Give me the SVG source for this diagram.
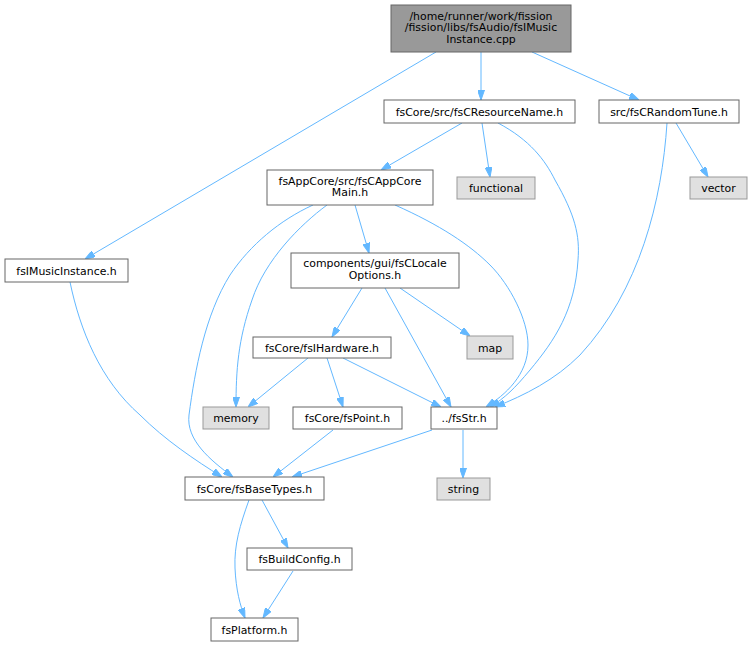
<svg xmlns="http://www.w3.org/2000/svg" width="752" height="647" viewBox="0 0 752 647">
<style>
text{font-family:"DejaVu Sans","Liberation Sans",sans-serif;font-size:10.9px;fill:#000;text-anchor:middle}
.n{fill:#fff;stroke:#666;stroke-width:1}
.x{fill:#e0e0e0;stroke:#999;stroke-width:1}
.r{fill:#999;stroke:#666;stroke-width:1}
.e{fill:none;stroke:#63b8ff;stroke-width:1;marker-end:url(#ah)}
</style>
<defs>
<marker id="ah" viewBox="0 0 10 7" refX="10" refY="3.5" markerWidth="10" markerHeight="7" markerUnits="userSpaceOnUse" orient="auto">
<path d="M0,0 L10,3.5 L0,7 z" fill="#63b8ff" stroke="#63b8ff"/>
</marker>
</defs>
<rect width="752" height="647" fill="#fff"/>
<g id="edges">
<path class="e" d="M436,52 L85,259"/>
<path class="e" d="M481,52 L481,100"/>
<path class="e" d="M532,52 L639,100"/>
<path class="e" d="M462,123 L381,170"/>
<path class="e" d="M482,123 L490,177"/>
<path class="e" d="M498,123 C530,140 545,160 555,180 C575,215 580,235 578,260 C575,310 555,340 530,370 C515,388 505,398 490,407"/>
<path class="e" d="M676,123 L708,177"/>
<path class="e" d="M667,123 C662,200 640,290 580,355 C555,380 525,395 495,407"/>
<path class="e" d="M313,205 C280,220 250,245 230,275 C205,315 195,370 189,415 C186,440 210,460 233,477"/>
<path class="e" d="M327,205 C300,225 265,260 252,300 C238,340 236,370 236,407"/>
<path class="e" d="M355,205 L369,253"/>
<path class="e" d="M395,205 C440,225 470,245 490,265 C510,285 528,320 528,345 C528,375 505,395 486,407"/>
<path class="e" d="M362,288 L332,337"/>
<path class="e" d="M400,288 L470,336"/>
<path class="e" d="M385,288 L451,407"/>
<path class="e" d="M308,358 L248,407"/>
<path class="e" d="M327,358 L343,407"/>
<path class="e" d="M343,358 L441,407"/>
<path class="e" d="M70,282 C80,330 100,380 140,415 C165,440 195,460 222,477"/>
<path class="e" d="M333,430 L273,477"/>
<path class="e" d="M432,430 L292,477"/>
<path class="e" d="M463,430 L463,478"/>
<path class="e" d="M262,500 L288,548"/>
<path class="e" d="M249,500 C240,525 234,545 235,568 C236,590 240,605 245,618"/>
<path class="e" d="M293,571 L263,618"/>
</g>
<g id="root"><rect class="r" x="391" y="5" width="180" height="47"/><text x="481" y="19.5">/home/runner/work/fission</text><text x="481" y="31">/fission/libs/fsAudio/fsIMusic</text><text x="481" y="42.5">Instance.cpp</text></g>
<g id="fsCResourceName"><rect class="n" x="384" y="100" width="191" height="23"/><text x="479.5" y="115.5">fsCore/src/fsCResourceName.h</text></g>
<g id="fsCRandomTune"><rect class="n" x="599" y="100" width="140" height="23"/><text x="669" y="115.5">src/fsCRandomTune.h</text></g>
<g id="functional"><rect class="x" x="457" y="177" width="78" height="22"/><text x="496" y="192">functional</text></g>
<g id="vector"><rect class="x" x="690" y="177" width="57" height="22"/><text x="718.5" y="192">vector</text></g>
<g id="fsCAppCoreMain"><rect class="n" x="267" y="170" width="166" height="35"/><text x="350" y="184.5">fsAppCore/src/fsCAppCore</text><text x="350" y="196">Main.h</text></g>
<g id="fsIMusicInstance"><rect class="n" x="5" y="259" width="123" height="23"/><text x="66.5" y="275">fsIMusicInstance.h</text></g>
<g id="fsCLocaleOptions"><rect class="n" x="291" y="253" width="168" height="35"/><text x="375" y="267">components/gui/fsCLocale</text><text x="375" y="278.5">Options.h</text></g>
<g id="map"><rect class="x" x="467" y="336" width="46" height="23"/><text x="490" y="351.5">map</text></g>
<g id="fsIHardware"><rect class="n" x="253" y="337" width="138" height="21"/><text x="322" y="351.5">fsCore/fsIHardware.h</text></g>
<g id="memory"><rect class="x" x="203" y="407" width="66" height="22"/><text x="236" y="422">memory</text></g>
<g id="fsPoint"><rect class="n" x="293" y="407" width="109" height="22"/><text x="347.5" y="422">fsCore/fsPoint.h</text></g>
<g id="fsStr"><rect class="n" x="431" y="407" width="66" height="22"/><text x="464" y="422">../fsStr.h</text></g>
<g id="fsBaseTypes"><rect class="n" x="185" y="477" width="139" height="23"/><text x="254.5" y="492.5">fsCore/fsBaseTypes.h</text></g>
<g id="string"><rect class="x" x="437" y="478" width="53" height="22"/><text x="463.5" y="493">string</text></g>
<g id="fsBuildConfig"><rect class="n" x="247" y="548" width="105" height="22"/><text x="299.5" y="563">fsBuildConfig.h</text></g>
<g id="fsPlatform"><rect class="n" x="211" y="618" width="87" height="23"/><text x="254.5" y="633.5">fsPlatform.h</text></g>
</svg>
